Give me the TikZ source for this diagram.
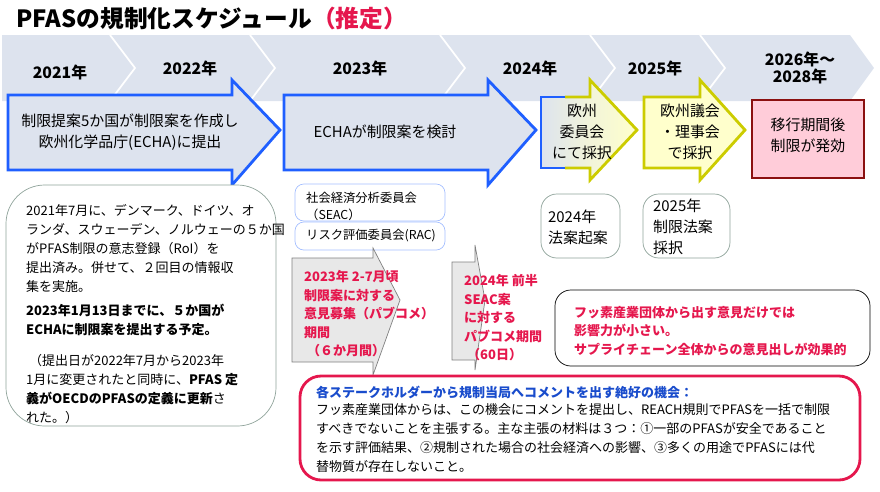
\documentclass[tikz,border=0pt]{standalone}
\usepackage{fontspec}
\setmainfont{Noto Sans CJK JP}
\usetikzlibrary{positioning}
\definecolor{band}{HTML}{DDE3EE}
\definecolor{arrblue}{HTML}{1F5FFF}
\definecolor{pubred}{HTML}{E5174D}
\definecolor{ylw}{HTML}{CCCC00}
\definecolor{lylw}{HTML}{FFFFCC}
\definecolor{pinkf}{HTML}{FFCCD9}
\definecolor{darkred}{HTML}{8B1010}
\definecolor{grayb}{HTML}{8FA39A}
\tikzset{
  year/.style={font=\bfseries\fontsize{9}{10}\selectfont, align=center},
  bigarrow/.style={draw=arrblue, line width=1.6pt, fill=band, line join=miter},
  note/.style={draw=grayb, rounded corners=14pt, fill=white},
  body/.style={font=\fontsize{7.4}{10.8}\selectfont, align=left},
  redtxt/.style={text=pubred, font=\bfseries\fontsize{7.4}{10.6}\selectfont, align=left},
  grayarrow/.style={draw=gray, fill=gray!18}
}
\begin{document}
\begin{tikzpicture}[x=0.02cm, y=-0.02cm]
\useasboundingbox (0,0) rectangle (880,491);
% title
\node[anchor=west, font=\bfseries\fontsize{13.5}{15}\selectfont] (title) at (10,18)
  {PFASの規制化スケジュール\textcolor{pubred}{（推定）}};
% background band
\fill[band] (2,35) -- (850,35) -- (874,68) -- (850,101) -- (2,101) -- cycle;
\foreach \xx in {110,250,440,590,700}
  \draw[white, line width=1pt] (\xx,35) -- (\xx+25,68) -- (\xx,101);
\node[year] (y21) at (60,72) {2021年};
\node[year] (y22) at (190,68) {2022年};
\node[year] (y23) at (360,68) {2023年};
\node[year] (y24) at (530,68) {2024年};
\node[year] (y25) at (655,68) {2025年};
\node[year] (y26) at (800,68) {2026年～\\2028年};
% big arrows
\draw[bigarrow] (8,95) -- (232,95) -- (232,80) -- (280,130) -- (232,185) -- (232,170) -- (8,170) -- cycle;
\node[font=\fontsize{8.5}{12}\selectfont, align=center] (a1) at (130,132) {制限提案5か国が制限案を作成し\\欧州化学品庁(ECHA)に提出};
\draw[bigarrow] (284,95) -- (488,95) -- (488,80) -- (536,130) -- (488,185) -- (488,170) -- (284,170) -- cycle;
\node[font=\fontsize{8.5}{12}\selectfont] (a2) at (385,132) {ECHAが制限案を検討};
\shade[left color=band, right color=lylw, middle color=lylw!60!band]
  (541,97) -- (590,97) -- (590,80) -- (637,130) -- (590,180) -- (590,168) -- (541,168) -- cycle;
\draw[ylw, line width=1.6pt, line join=miter] (565,97) -- (590,97) -- (590,80) -- (637,130) -- (590,180) -- (590,168) -- (565,168);
\draw[arrblue, line width=1.6pt, line join=miter] (565,97) -- (541,97) -- (541,168) -- (565,168);
\node[font=\fontsize{8.5}{12}\selectfont, align=center] (a3) at (582,132) {欧州\\委員会\\にて採択};
\draw[ylw, fill=lylw, line width=1.6pt, line join=miter]
  (644,97) -- (700,97) -- (700,80) -- (745,130) -- (700,180) -- (700,168) -- (644,168) -- cycle;
\node[font=\fontsize{8.5}{12}\selectfont, align=center] (a4) at (690,132) {欧州議会\\・理事会\\で採択};
\draw[darkred, fill=pinkf, line width=1.6pt] (752,100) rectangle (864,178);
\node[font=\fontsize{8.5}{12}\selectfont, align=center] (a5) at (808,135) {移行期間後\\制限が発効};
% left note
\draw[note, rounded corners=22pt] (6,185) rectangle (276,426);
\node[body, anchor=north west] (n1) at (20,198)
  {2021年7月に、デンマーク、ドイツ、オ\\ランダ、スウェーデン、ノルウェーの５か国\\がPFAS制限の意志登録（RoI）を\\提出済み。併せて、２回目の情報収\\集を実施。};
\node[body, font=\bfseries\fontsize{7.4}{10.8}\selectfont, anchor=north west] (n2) at (20,298)
  {2023年1月13日までに、５か国が\\ECHAに制限案を提出する予定。};
\node[body, anchor=north west] (n3) at (20,348)
  {\ （提出日が2022年7月から2023年\\1月に変更されたと同時に、\textbf{PFAS 定}\\\textbf{義がOECDのPFASの定義に更新}さ\\れた。）};
% committees
\draw[arrblue!40, rounded corners=5pt, fill=white] (295,184) rectangle (445,221);
\node[font=\fontsize{7}{9.5}\selectfont, align=left, anchor=north west] (seac) at (300,186) {社会経済分析委員会\\（SEAC）};
\draw[arrblue!40, rounded corners=5pt, fill=white] (295,222) rectangle (445,250);
\node[font=\fontsize{7}{9.5}\selectfont, anchor=west] (rac) at (300,236) {リスク評価委員会(RAC)};
% gray arrows
\draw[grayarrow] (292,258) -- (373,258) -- (373,248) -- (400,300) -- (373,375) -- (373,362) -- (292,362) -- cycle;
\node[redtxt, anchor=north west] (pc1) at (298,264) {2023年 2-7月頃\\制限案に対する\\意見募集（パブコメ）\\期間\\\ （６か月間）};
\draw[grayarrow] (452,262) -- (475,262) -- (475,245) -- (485,300) -- (475,370) -- (475,360) -- (452,360) -- cycle;
\node[redtxt, anchor=north west] (pc2) at (458,268) {2024年 前半\\SEAC案\\に対する\\パブコメ期間\\\ （60日）};
% small notes
\draw[note, rounded corners=9pt] (541,194) rectangle (620,258);
\node[font=\fontsize{8.5}{12}\selectfont, align=left] (d24) at (578,227) {2024年\\法案起案};
\draw[note, rounded corners=9pt] (643,194) rectangle (730,258);
\node[font=\fontsize{8.5}{12}\selectfont, align=left] (d25) at (683,227) {2025年\\制限法案\\採択};
% red comment box
\draw[black, rounded corners=9pt] (555,290) rectangle (870,366);
\node[redtxt, anchor=north west] (impact) at (568,300) {フッ素産業団体から出す意見だけでは\\影響力が小さい。\\サプライチェーン全体からの意見出しが効果的};
% bottom box
\draw[pubred, line width=1.6pt, rounded corners=12pt, fill=white] (300,376) rectangle (860,480);
\node[font=\bfseries\fontsize{7.4}{10.8}\selectfont, text=arrblue!80!black, anchor=north west] (chance) at (310,380) {各ステークホルダーから規制当局へコメントを出す絶好の機会：};
\node[body, anchor=north west] (claim) at (310,397) {フッ素産業団体からは、この機会にコメントを提出し、REACH規則でPFASを一括で制限\\すべきでないことを主張する。主な主張の材料は３つ：①一部のPFASが安全であること\\を示す評価結果、②規制された場合の社会経済への影響、③多くの用途でPFASには代\\替物質が存在しないこと。};
\end{tikzpicture}
\end{document}
